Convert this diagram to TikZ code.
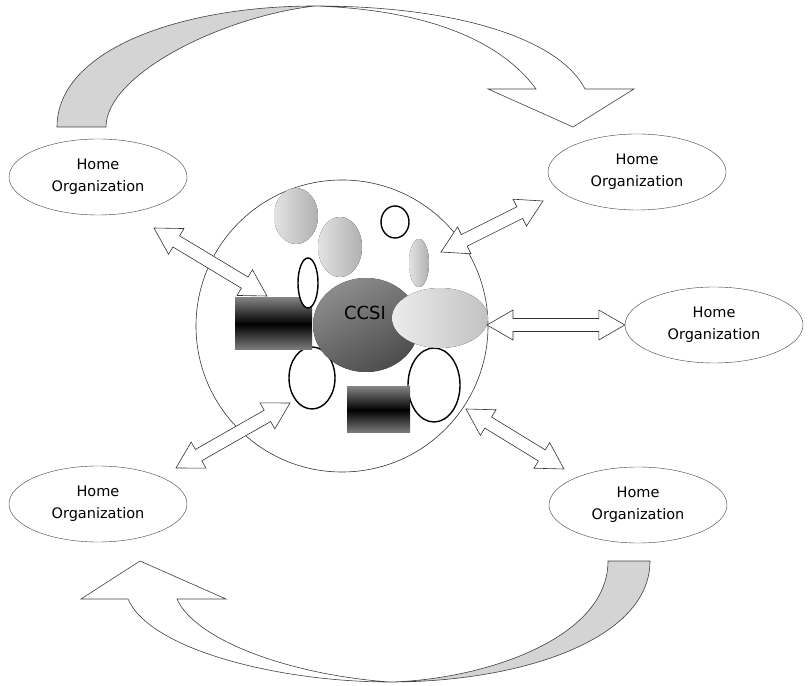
\documentclass[tikz,border=0pt]{standalone}
\usepackage{fontspec}
\setmainfont{DejaVu Sans}
\usetikzlibrary{shapes.geometric,calc}
\definecolor{bandgrey}{RGB}{212,212,212}
\tikzset{
  home/.style={draw=black!75, ellipse, fill=white, minimum width=178pt, minimum height=76pt, inner sep=0pt, align=center, font=\fontsize{14.5}{22}\selectfont},
  band/.style={draw=black!75, line width=0.6pt},
  blockarrow/.style={draw=black!80, fill=white, line width=0.6pt},
  hole/.style={draw=black, line width=1.4pt, fill=white},
  softball/.style={left color=gray!22, right color=gray!62},
  bar/.style={top color=black!50, bottom color=black!50, middle color=black},
}
% hollow two-headed arrow from #1 to #2
\newcommand{\dblarrow}[2]{%
  \draw[blockarrow] (#1) -- ($(#1)!26pt!(#2)!15pt!90:(#2)$) -- ($(#1)!26pt!(#2)!6.5pt!90:(#2)$)
    -- ($(#2)!26pt!(#1)!6.5pt!-90:(#1)$) -- ($(#2)!26pt!(#1)!15pt!-90:(#1)$) -- (#2)
    -- ($(#2)!26pt!(#1)!15pt!90:(#1)$) -- ($(#2)!26pt!(#1)!6.5pt!90:(#1)$)
    -- ($(#1)!26pt!(#2)!6.5pt!-90:(#2)$) -- ($(#1)!26pt!(#2)!15pt!-90:(#2)$) -- cycle;}

\begin{document}
\begin{tikzpicture}[x=1pt,y=1pt]
\useasboundingbox (0,0) rectangle (810,685);

% top turning arrow
\draw[band, fill=bandgrey] (57,558) -- (106,558) .. controls (106,610) and (220,668) .. (315,679)
  .. controls (180,679) and (57,635) .. (57,558) -- cycle;
\draw[band, fill=white] (315,679) .. controls (460,679) and (560,645) .. (585,596) -- (634,596) -- (573,558)
  -- (488,596) -- (536,596) .. controls (495,652) and (410,676) .. (315,679) -- cycle;

% bottom turning arrow
\draw[band, fill=bandgrey] (608,124) -- (650,124) .. controls (650,45) and (520,3) .. (390,3)
  .. controls (480,5) and (608,45) .. (608,124) -- cycle;
\draw[band, fill=white] (390,3) .. controls (280,3) and (150,35) .. (128,86) -- (81,86) -- (140,124)
  -- (226,86) -- (177,86) .. controls (195,45) and (290,10) .. (390,3) -- cycle;

% home organizations
\node[home] (homeTL) at (98,508) {Home\\Organization};
\node[home] (homeTR) at (637,513) {Home\\Organization};
\node[home] (homeR) at (714,360) {Home\\Organization};
\node[home] (homeBL) at (98,181) {Home\\Organization};
\node[home] (homeBR) at (638,180) {Home\\Organization};

% the CCSI circle
\draw[black!80, fill=white, line width=0.6pt] (342,359) circle (146);
\fill[softball] (296,469) ellipse (22 and 28);
\fill[softball] (340,438) ellipse (22 and 30);
\draw[hole] (395,463) ellipse (14 and 16);
\fill[softball] (419,422) ellipse (10 and 24);
\draw[hole] (312,307) ellipse (23 and 31);
\draw[hole] (434,300) ellipse (26 and 37);
\fill[bar] (235,335) rectangle (312,387);
\fill[bar] (347,252) rectangle (410,298);
\fill[top color=black!45, bottom color=black!70, shading angle=30] (366,360) ellipse (53 and 47);
\draw[hole] (308,402) ellipse (10 and 25);
\fill[left color=gray!15, right color=gray!48] (440,367) ellipse (48 and 30);
\node[font=\fontsize{18}{20}\selectfont] (ccsi) at (365,372) {CCSI};

% exchange arrows
\coordinate (ulA) at (154,457); \coordinate (ulB) at (267,389);
\coordinate (llA) at (176,217); \coordinate (llB) at (290,282);
\coordinate (urA) at (441,433); \coordinate (urB) at (543,484);
\coordinate (lrA) at (466,276); \coordinate (lrB) at (564,216);
\coordinate (rmA) at (487,360);
\dblarrow{ulA}{ulB}
\dblarrow{llA}{llB}
\dblarrow{urA}{urB}
\dblarrow{lrA}{lrB}
\dblarrow{rmA}{homeR.west}

\end{tikzpicture}
\end{document}
